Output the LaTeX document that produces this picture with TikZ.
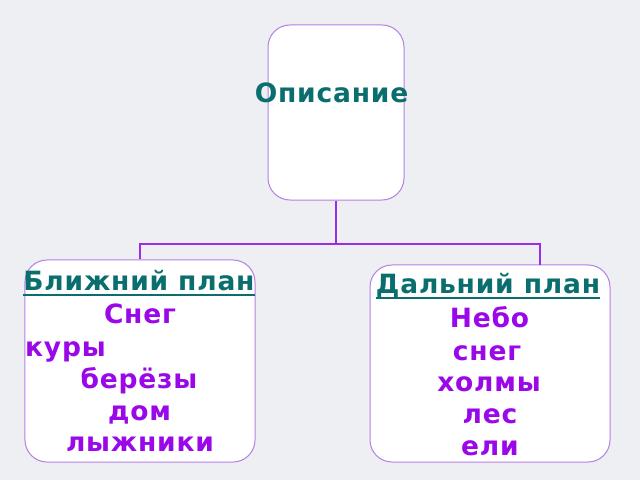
\documentclass[tikz,border=0pt]{standalone}
\usepackage{fontspec}
\newfontfamily\dvfont{DejaVu Sans Bold}[LetterSpace=3]
\definecolor{bgc}{HTML}{EDEFF3}
\definecolor{boxline}{HTML}{B67FE6}
\definecolor{conncol}{HTML}{9A2CEB}
\definecolor{tealc}{HTML}{0B6E6E}
\definecolor{purp}{HTML}{9A08EA}
\tikzset{
  box/.style={draw=boxline, line width=1bp, fill=white, rounded corners=22bp, inner sep=0},
  conn/.style={draw=conncol, line width=2bp},
  txt/.style={inner sep=0, anchor=base, text=purp, font=\dvfont\fontsize{26.5bp}{30bp}\selectfont},
  ttl/.style={txt, text=tealc},
  uline/.style={draw=tealc, line width=1.5bp}
}
\begin{document}
\begin{tikzpicture}[x=1bp,y=-1bp]
\fill[bgc] (0,0) rectangle (640,480);
\useasboundingbox (0,0) rectangle (640,480);
% boxes
\node[box, minimum width=136bp, minimum height=175bp] (top) at (336,112.5) {};
\node[box, minimum width=230bp, minimum height=202bp] (left) at (140,361) {};
\node[box, minimum width=240bp, minimum height=197bp] (right) at (490,363.5) {};
% connectors
\coordinate (bus) at (336,244);
\coordinate (rtop) at (540,265);
\draw[conn] (top.south) -- (bus);
\draw[conn] (left.north) |- (bus);
\draw[conn] (rtop) |- (bus);
% top text
\node[ttl] (op) at (331.5,103) {Описание};
% left texts
\node[ttl] (t1) at (139,290) {Ближний план};
\draw[uline] ([yshift=-5bp]t1.base west) -- ([yshift=-5bp]t1.base east);
\node[txt] (l1) at (140,323) {Снег};
\node[txt, anchor=base west] (l2) at (25,356.5) {куры};
\node[txt] (l3) at (139,388) {берёзы};
\node[txt] (l4) at (139.5,420) {дом};
\node[txt] (l5) at (140,451.5) {лыжники};
% right texts
\node[ttl] (t2) at (488,293) {Дальний план};
\draw[uline] ([yshift=-5bp]t2.base west) -- ([yshift=-5bp]t2.base east);
\node[txt] (r1) at (489.5,327) {Небо};
\node[txt] (r2) at (487,360) {снег};
\node[txt] (r3) at (489,391.5) {холмы};
\node[txt] (r4) at (490,423) {лес};
\node[txt] (r5) at (490,455) {ели};
\end{tikzpicture}
\end{document}
